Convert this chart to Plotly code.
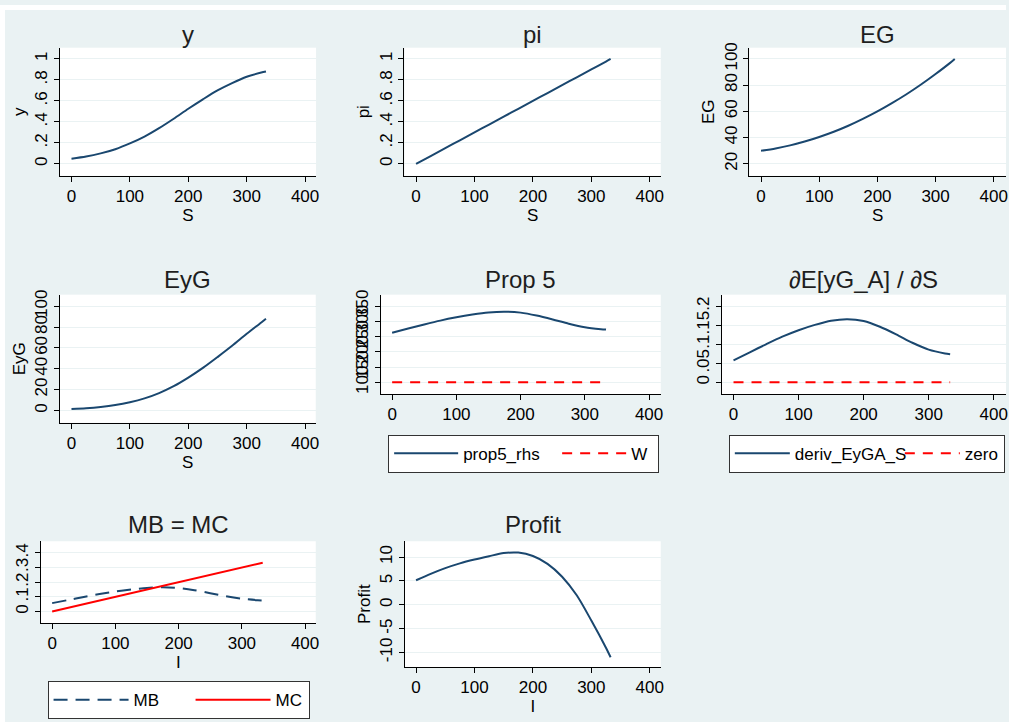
import plotly.graph_objects as go

# ---------------- data ----------------
S = [0, 25, 50, 75, 100, 125, 150, 175, 200, 225, 250, 275, 300, 325, 333]
y_vals = [0.05, 0.07, 0.10, 0.14, 0.195, 0.26, 0.34, 0.43, 0.525, 0.615, 0.70, 0.77, 0.83, 0.87, 0.88]
pi_vals = [0.0, 0.075, 0.15, 0.225, 0.30, 0.375, 0.45, 0.525, 0.60, 0.675, 0.75, 0.825, 0.90, 0.975, 1.0]
EG_vals = [30.0, 31.8, 34.1, 37.0, 40.5, 44.5, 49.1, 54.3, 60.0, 66.3, 73.1, 80.5, 88.5, 97.0, 100.0]
EyG_vals = [1.5, 2.2, 3.4, 5.2, 7.9, 11.6, 16.7, 23.3, 31.5, 40.8, 51.2, 62.0, 73.5, 84.4, 88.0]
prop5_rhs = [263, 276.5, 290, 302.7, 313.5, 322.5, 329.5, 332, 328.9, 319.3, 306.5, 292.5, 281, 274.6, 273.3]
W_S = [0, 333]
W_vals = [100, 100]
deriv_EyGA_S = [0.058, 0.079, 0.100, 0.120, 0.137, 0.151, 0.162, 0.166, 0.161, 0.146, 0.126, 0.104, 0.086, 0.076, 0.074]
zero_S = [0, 333]
zero_vals = [0, 0]
I = S
MB = [0.057, 0.078, 0.099, 0.119, 0.136, 0.150, 0.161, 0.165, 0.160, 0.145, 0.125, 0.104, 0.087, 0.077, 0.075]
MC_I = [0, 333]
MC = [0.0, 0.333]
Profit = [5.15, 6.5, 7.7, 8.7, 9.5, 10.2, 10.85, 10.95, 10.25, 8.6, 5.9, 2.0, -3.3, -9.0, -11.0]

x_ticks = [0, 100, 200, 300, 400]
x_ticktext = ["0", "100", "200", "300", "400"]
y_ticks_01 = [0, 0.2, 0.4, 0.6, 0.8, 1]
y_ticktext_01 = ["0", ".2", ".4", ".6", ".8", "1"]
EG_ticks = [20, 40, 60, 80, 100]
EyG_ticks = [0, 20, 40, 60, 80, 100]
prop5_ticks = [100, 150, 200, 250, 300, 350]
deriv_ticks = [0, 0.05, 0.1, 0.15, 0.2]
deriv_ticktext = ["0", ".05", ".1", ".15", ".2"]
mbmc_ticks = [0, 0.1, 0.2, 0.3, 0.4]
mbmc_ticktext = ["0", ".1", ".2", ".3", ".4"]
profit_ticks = [-10, -5, 0, 5, 10]

titles = ["y", "pi", "EG", "EyG", "Prop 5", "\u2202E[yG_A] / \u2202S", "MB = MC", "Profit"]

# ---------------- styling ----------------
W, H = 1009, 722
NAVY = "#1A476F"
RED = "#FF0000"
BG = "#EAF2F3"
FONT = "Liberation Sans, Arial, sans-serif"
TICK_SIZE = 17
TITLE_SIZE = 24

# panel geometry in pixels: plot box (left, right, top, bottom), pixel of x=0 and x=400,
# pixel y of two reference values
panels = [
    dict(box=(60, 317, 43, 172), x0=71.7, x400=306, yref=((0, 160), (1, 54.3)), ttl_y=30),
    dict(box=(405.7, 662.7, 43, 172), x0=417.3, x400=651.7, yref=((0, 160), (1, 54.3)), ttl_y=30),
    dict(box=(751.7, 1009, 43, 172), x0=763.3, x400=996.7, yref=((20, 160), (100, 54.3)), ttl_y=30),
    dict(box=(60, 316.7, 291.7, 420.7), x0=71.7, x400=306, yref=((0, 408.3), (100, 303.3)), ttl_y=276.7),
    dict(box=(382.3, 662.7, 291.7, 391.7), x0=393.3, x400=651, yref=((100, 380), (350, 303.3)), ttl_y=276.7),
    dict(box=(724, 1009, 291.7, 391.7), x0=735.7, x400=996.7, yref=((0, 380), (0.2, 303.3)), ttl_y=276.7),
    dict(box=(41, 316.7, 540, 622.3), x0=52.3, x400=306, yref=((0, 610.7), (0.4, 551.7)), ttl_y=523.3),
    dict(box=(406, 662.7, 540, 666.7), x0=417.3, x400=651.7, yref=((0, 604), (10, 556)), ttl_y=523.3),
]

yaxis_ticks = [
    (y_ticks_01, y_ticktext_01, "y"),
    (y_ticks_01, y_ticktext_01, "pi"),
    (EG_ticks, [str(v) for v in EG_ticks], "EG"),
    (EyG_ticks, [str(v) for v in EyG_ticks], "EyG"),
    (prop5_ticks, [str(v) for v in prop5_ticks], None),
    (deriv_ticks, deriv_ticktext, None),
    (mbmc_ticks, mbmc_ticktext, None),
    (profit_ticks, [str(v) for v in profit_ticks], "Profit"),
]
x_titles = ["S", "S", "S", "S", None, None, "I", "I"]

fig = go.Figure()

def add(i, x, y, name, color, dash="solid", legend=None, show=False):
    fig.add_trace(go.Scatter(
        x=x, y=y, mode="lines", name=name,
        line=dict(color=color, width=2, dash=dash, shape="spline", smoothing=0.8),
        xaxis="x" if i == 1 else f"x{i}", yaxis="y" if i == 1 else f"y{i}",
        showlegend=show, legend=legend, hoverinfo="skip",
    ))

add(1, S, y_vals, "y", NAVY)
add(2, S, pi_vals, "pi", NAVY)
add(3, S, EG_vals, "EG", NAVY)
add(4, S, EyG_vals, "EyG", NAVY)
add(5, S, prop5_rhs, "prop5_rhs", NAVY, legend="legend", show=True)
add(5, W_S, W_vals, "W", RED, dash="10px,8px", legend="legend", show=True)
add(6, S, deriv_EyGA_S, "deriv_EyGA_S", NAVY, legend="legend2", show=True)
add(6, zero_S, zero_vals, "zero", RED, dash="10px,8px", legend="legend2", show=True)
add(7, I, MB, "MB", NAVY, dash="14px,8px", legend="legend3", show=True)
add(7, MC_I, MC, "MC", RED, legend="legend3", show=True)
add(8, I, Profit, "Profit", NAVY)

# legend widths per trace
fig.data[4].legendwidth = 89
fig.data[5].legendwidth = 22
fig.data[6].legendwidth = 100
fig.data[7].legendwidth = 34
fig.data[8].legendwidth = 52
fig.data[9].legendwidth = 28

layout = dict(
    width=W, height=H, margin=dict(l=0, r=0, t=0, b=0),
    paper_bgcolor=BG, plot_bgcolor="white",
    font=dict(family=FONT, size=TICK_SIZE, color="#000000"),
    showlegend=True,
)

annotations = []
for k, p in enumerate(panels):
    i = k + 1
    l, r, t, b = p["box"]
    ppu = (p["x400"] - p["x0"]) / 400.0
    xr = [(l - p["x0"]) / ppu, (r - p["x0"]) / ppu]
    (v1, py1), (v2, py2) = p["yref"]
    vpp = (v2 - v1) / (py1 - py2)
    yr = [v1 - (b - py1) * vpp, v1 + (py1 - t) * vpp]
    xa = dict(domain=[l / W, r / W], range=xr, anchor=f"y{i}" if i > 1 else "y",
              tickvals=x_ticks, ticktext=x_ticktext, showgrid=False, zeroline=False,
              showline=True, linecolor="#000000", linewidth=1, ticks="outside", ticklen=5,
              tickcolor="#000000", tickfont=dict(size=TICK_SIZE, color="#000000"), fixedrange=True)
    if x_titles[k]:
        xa["title"] = dict(text=x_titles[k], font=dict(size=TICK_SIZE, color="#000000"), standoff=0)
    tv, tt, ytitle = yaxis_ticks[k]
    ya = dict(domain=[1 - b / H, 1 - t / H], range=yr, anchor=f"x{i}" if i > 1 else "x",
              tickvals=tv, ticktext=tt, showgrid=True, gridcolor=BG, gridwidth=1, zeroline=False,
              showline=True, linecolor="#000000", linewidth=1, ticks="outside", ticklen=5,
              tickcolor="#000000", tickangle=-90, tickfont=dict(size=TICK_SIZE, color="#000000"),
              fixedrange=True)
    if ytitle:
        ya["title"] = dict(text=ytitle, font=dict(size=TICK_SIZE, color="#000000"), standoff=2)
    layout["xaxis" if i == 1 else f"xaxis{i}"] = xa
    layout["yaxis" if i == 1 else f"yaxis{i}"] = ya
    annotations.append(dict(text=titles[k], x=(l + min(r, 1009)) / 2 / W, y=1 - p["ttl_y"] / H,
                            xref="paper", yref="paper", showarrow=False, xanchor="center",
                            yanchor="middle", font=dict(size=TITLE_SIZE, color="#1E1E1E")))

legend_common = dict(orientation="h", xanchor="left", yanchor="top", bgcolor="white",
                     bordercolor="#333333", borderwidth=1, font=dict(size=TICK_SIZE, color="#000000"))
layout["legend"] = dict(legend_common, x=389.3 / W, y=1 - 432.7 / H, itemwidth=64)
layout["legend2"] = dict(legend_common, x=731 / W, y=1 - 432.7 / H, itemwidth=55)
layout["legend3"] = dict(legend_common, x=47.7 / W, y=1 - 681 / H, itemwidth=75)

layout["annotations"] = annotations
layout["shapes"] = [
    dict(type="rect", xref="paper", yref="paper", x0=0, x1=1, y0=1 - 5 / H, y1=1,
         fillcolor="white", line=dict(width=0), layer="below"),
    dict(type="rect", xref="paper", yref="paper", x0=0, x1=5 / W, y0=0, y1=1,
         fillcolor="white", line=dict(width=0), layer="below"),
]
fig.update_layout(**layout)
fig.write_html("out.html")
